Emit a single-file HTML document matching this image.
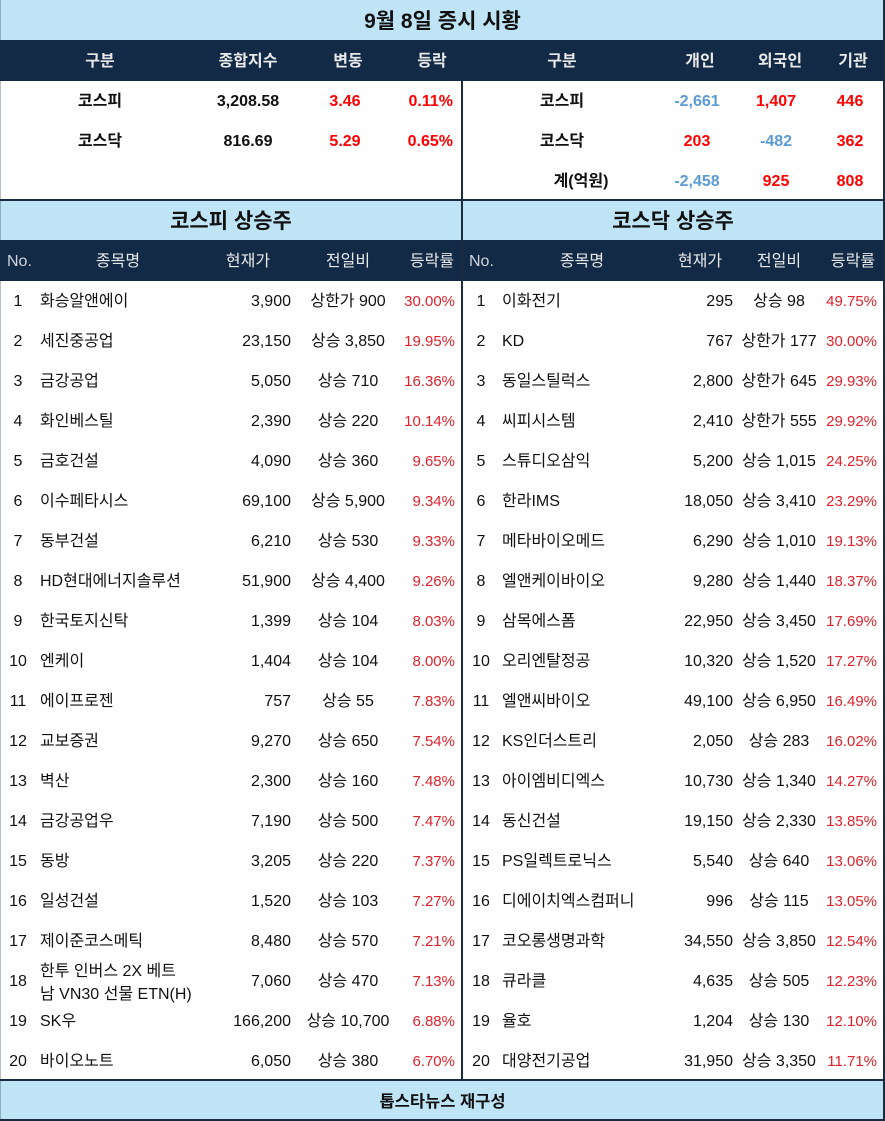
<!DOCTYPE html>
<html><head><meta charset="utf-8">
<style>
*{margin:0;padding:0;box-sizing:border-box}
html,body{width:885px;height:1121px;background:#fff;overflow:hidden}
body{position:relative;font-family:"Liberation Sans","Noto Sans CJK KR","NanumGothic",sans-serif;color:#111;font-size:16px}
.bl{position:absolute;left:0;width:885px;background:#bfe4f5}
.nv{position:absolute;left:0;width:885px;background:#122a46}
.ln{position:absolute;background:#1b2b40}
.t{position:absolute;white-space:nowrap}
.r{position:absolute;left:0;width:885px;height:40px;line-height:40px;padding-top:2px}
.c1{position:absolute;left:0;width:36px;text-align:center}
.c2{position:absolute;left:40px}
.c3{position:absolute;right:594px}
.c4{position:absolute;left:248px;width:200px;text-align:center}
.c5{position:absolute;right:430px;color:#e0222c;font-size:15px}
.d1{position:absolute;left:461px;width:40px;text-align:center}
.d2{position:absolute;left:502px}
.d3{position:absolute;right:152px}
.d4{position:absolute;left:679px;width:200px;text-align:center}
.d5{position:absolute;right:8px;color:#e0222c;font-size:15px}
.h{color:#e8e8e8}
.red{color:#f00}
.blu{color:#5b9bd5}
.b{font-weight:bold}
</style></head><body>
<!-- title -->
<div class="bl" style="top:0;height:40px"></div>
<div class="t b" style="left:0;width:885px;top:2px;height:40px;line-height:40px;text-align:center;font-size:21px;color:#111">9월 8일 증시 시황</div>
<!-- header 1 -->
<div class="nv" style="top:40px;height:41px"></div>
<div class="r h b" style="top:40px;font-size:16px">
<span class="t" style="left:50px;width:100px;text-align:center">구분</span>
<span class="t" style="left:198px;width:100px;text-align:center">종합지수</span>
<span class="t" style="left:298px;width:100px;text-align:center">변동</span>
<span class="t" style="left:382px;width:100px;text-align:center">등락</span>
<span class="t" style="left:512px;width:100px;text-align:center">구분</span>
<span class="t" style="left:650px;width:100px;text-align:center">개인</span>
<span class="t" style="left:730px;width:100px;text-align:center">외국인</span>
<span class="t" style="left:803px;width:100px;text-align:center">기관</span>
</div>
<!-- top data -->
<div class="r b" style="top:80px">
<span class="t" style="left:50px;width:100px;text-align:center">코스피</span>
<span class="t" style="left:198px;width:100px;text-align:center">3,208.58</span>
<span class="t red" style="left:295px;width:100px;text-align:center">3.46</span>
<span class="t red" style="right:432px">0.11%</span>
<span class="t" style="left:512px;width:100px;text-align:center">코스피</span>
<span class="t blu" style="left:647px;width:100px;text-align:center">-2,661</span>
<span class="t red" style="left:726px;width:100px;text-align:center">1,407</span>
<span class="t red" style="left:800px;width:100px;text-align:center">446</span>
</div>
<div class="r b" style="top:120px">
<span class="t" style="left:50px;width:100px;text-align:center">코스닥</span>
<span class="t" style="left:198px;width:100px;text-align:center">816.69</span>
<span class="t red" style="left:295px;width:100px;text-align:center">5.29</span>
<span class="t red" style="right:432px">0.65%</span>
<span class="t" style="left:512px;width:100px;text-align:center">코스닥</span>
<span class="t red" style="left:647px;width:100px;text-align:center">203</span>
<span class="t blu" style="left:726px;width:100px;text-align:center">-482</span>
<span class="t red" style="left:800px;width:100px;text-align:center">362</span>
</div>
<div class="r b" style="top:160px">
<span class="t" style="left:531px;width:100px;text-align:center">계(억원)</span>
<span class="t blu" style="left:647px;width:100px;text-align:center">-2,458</span>
<span class="t red" style="left:726px;width:100px;text-align:center">925</span>
<span class="t red" style="left:800px;width:100px;text-align:center">808</span>
</div>
<!-- section headers -->
<div class="ln" style="left:0;top:199px;width:885px;height:2px"></div>
<div class="bl" style="top:201px;height:39px"></div>
<div class="t b" style="left:131px;width:200px;top:202px;height:40px;line-height:40px;text-align:center;font-size:21px">코스피 상승주</div>
<div class="t b" style="left:573px;width:200px;top:202px;height:40px;line-height:40px;text-align:center;font-size:21px">코스닥 상승주</div>
<div class="nv" style="top:240px;height:41px"></div>
<div class="r h" style="top:240px">
<span class="t" style="left:7px;color:#d0d4da">No.</span>
<span class="t" style="left:68px;width:100px;text-align:center">종목명</span>
<span class="t" style="left:198px;width:100px;text-align:center">현재가</span>
<span class="t" style="left:298px;width:100px;text-align:center">전일비</span>
<span class="t" style="left:382px;width:100px;text-align:center">등락률</span>
<span class="t" style="left:469px;color:#d0d4da">No.</span>
<span class="t" style="left:532px;width:100px;text-align:center">종목명</span>
<span class="t" style="left:650px;width:100px;text-align:center">현재가</span>
<span class="t" style="left:729px;width:100px;text-align:center">전일비</span>
<span class="t" style="left:803px;width:100px;text-align:center">등락률</span>
</div>
<!-- rows -->
<div class="r" style="top:280px"><span class="c1">1</span><span class="c2">화승알앤에이</span><span class="c3">3,900</span><span class="c4">상한가 900</span><span class="c5">30.00%</span><span class="d1">1</span><span class="d2">이화전기</span><span class="d3">295</span><span class="d4">상승 98</span><span class="d5">49.75%</span></div>
<div class="r" style="top:320px"><span class="c1">2</span><span class="c2">세진중공업</span><span class="c3">23,150</span><span class="c4">상승 3,850</span><span class="c5">19.95%</span><span class="d1">2</span><span class="d2">KD</span><span class="d3">767</span><span class="d4">상한가 177</span><span class="d5">30.00%</span></div>
<div class="r" style="top:360px"><span class="c1">3</span><span class="c2">금강공업</span><span class="c3">5,050</span><span class="c4">상승 710</span><span class="c5">16.36%</span><span class="d1">3</span><span class="d2">동일스틸럭스</span><span class="d3">2,800</span><span class="d4">상한가 645</span><span class="d5">29.93%</span></div>
<div class="r" style="top:400px"><span class="c1">4</span><span class="c2">화인베스틸</span><span class="c3">2,390</span><span class="c4">상승 220</span><span class="c5">10.14%</span><span class="d1">4</span><span class="d2">씨피시스템</span><span class="d3">2,410</span><span class="d4">상한가 555</span><span class="d5">29.92%</span></div>
<div class="r" style="top:440px"><span class="c1">5</span><span class="c2">금호건설</span><span class="c3">4,090</span><span class="c4">상승 360</span><span class="c5">9.65%</span><span class="d1">5</span><span class="d2">스튜디오삼익</span><span class="d3">5,200</span><span class="d4">상승 1,015</span><span class="d5">24.25%</span></div>
<div class="r" style="top:480px"><span class="c1">6</span><span class="c2">이수페타시스</span><span class="c3">69,100</span><span class="c4">상승 5,900</span><span class="c5">9.34%</span><span class="d1">6</span><span class="d2">한라IMS</span><span class="d3">18,050</span><span class="d4">상승 3,410</span><span class="d5">23.29%</span></div>
<div class="r" style="top:520px"><span class="c1">7</span><span class="c2">동부건설</span><span class="c3">6,210</span><span class="c4">상승 530</span><span class="c5">9.33%</span><span class="d1">7</span><span class="d2">메타바이오메드</span><span class="d3">6,290</span><span class="d4">상승 1,010</span><span class="d5">19.13%</span></div>
<div class="r" style="top:560px"><span class="c1">8</span><span class="c2">HD현대에너지솔루션</span><span class="c3">51,900</span><span class="c4">상승 4,400</span><span class="c5">9.26%</span><span class="d1">8</span><span class="d2">엘앤케이바이오</span><span class="d3">9,280</span><span class="d4">상승 1,440</span><span class="d5">18.37%</span></div>
<div class="r" style="top:600px"><span class="c1">9</span><span class="c2">한국토지신탁</span><span class="c3">1,399</span><span class="c4">상승 104</span><span class="c5">8.03%</span><span class="d1">9</span><span class="d2">삼목에스폼</span><span class="d3">22,950</span><span class="d4">상승 3,450</span><span class="d5">17.69%</span></div>
<div class="r" style="top:640px"><span class="c1">10</span><span class="c2">엔케이</span><span class="c3">1,404</span><span class="c4">상승 104</span><span class="c5">8.00%</span><span class="d1">10</span><span class="d2">오리엔탈정공</span><span class="d3">10,320</span><span class="d4">상승 1,520</span><span class="d5">17.27%</span></div>
<div class="r" style="top:680px"><span class="c1">11</span><span class="c2">에이프로젠</span><span class="c3">757</span><span class="c4">상승 55</span><span class="c5">7.83%</span><span class="d1">11</span><span class="d2">엘앤씨바이오</span><span class="d3">49,100</span><span class="d4">상승 6,950</span><span class="d5">16.49%</span></div>
<div class="r" style="top:720px"><span class="c1">12</span><span class="c2">교보증권</span><span class="c3">9,270</span><span class="c4">상승 650</span><span class="c5">7.54%</span><span class="d1">12</span><span class="d2">KS인더스트리</span><span class="d3">2,050</span><span class="d4">상승 283</span><span class="d5">16.02%</span></div>
<div class="r" style="top:760px"><span class="c1">13</span><span class="c2">벽산</span><span class="c3">2,300</span><span class="c4">상승 160</span><span class="c5">7.48%</span><span class="d1">13</span><span class="d2">아이엠비디엑스</span><span class="d3">10,730</span><span class="d4">상승 1,340</span><span class="d5">14.27%</span></div>
<div class="r" style="top:800px"><span class="c1">14</span><span class="c2">금강공업우</span><span class="c3">7,190</span><span class="c4">상승 500</span><span class="c5">7.47%</span><span class="d1">14</span><span class="d2">동신건설</span><span class="d3">19,150</span><span class="d4">상승 2,330</span><span class="d5">13.85%</span></div>
<div class="r" style="top:840px"><span class="c1">15</span><span class="c2">동방</span><span class="c3">3,205</span><span class="c4">상승 220</span><span class="c5">7.37%</span><span class="d1">15</span><span class="d2">PS일렉트로닉스</span><span class="d3">5,540</span><span class="d4">상승 640</span><span class="d5">13.06%</span></div>
<div class="r" style="top:880px"><span class="c1">16</span><span class="c2">일성건설</span><span class="c3">1,520</span><span class="c4">상승 103</span><span class="c5">7.27%</span><span class="d1">16</span><span class="d2">디에이치엑스컴퍼니</span><span class="d3">996</span><span class="d4">상승 115</span><span class="d5">13.05%</span></div>
<div class="r" style="top:920px"><span class="c1">17</span><span class="c2">제이준코스메틱</span><span class="c3">8,480</span><span class="c4">상승 570</span><span class="c5">7.21%</span><span class="d1">17</span><span class="d2">코오롱생명과학</span><span class="d3">34,550</span><span class="d4">상승 3,850</span><span class="d5">12.54%</span></div>
<div class="r" style="top:960px"><span class="c1">18</span><div class="t" style="left:40px;top:0px;line-height:23px">한투 인버스 2X 베트<br>남 VN30 선물 ETN(H)</div><span class="c3">7,060</span><span class="c4">상승 470</span><span class="c5">7.13%</span><span class="d1">18</span><span class="d2">큐라클</span><span class="d3">4,635</span><span class="d4">상승 505</span><span class="d5">12.23%</span></div>
<div class="r" style="top:1000px"><span class="c1">19</span><span class="c2">SK우</span><span class="c3">166,200</span><span class="c4">상승 10,700</span><span class="c5">6.88%</span><span class="d1">19</span><span class="d2">율호</span><span class="d3">1,204</span><span class="d4">상승 130</span><span class="d5">12.10%</span></div>
<div class="r" style="top:1040px"><span class="c1">20</span><span class="c2">바이오노트</span><span class="c3">6,050</span><span class="c4">상승 380</span><span class="c5">6.70%</span><span class="d1">20</span><span class="d2">대양전기공업</span><span class="d3">31,950</span><span class="d4">상승 3,350</span><span class="d5">11.71%</span></div>
<!-- vertical divider -->
<div class="ln" style="left:461px;top:81px;width:2px;height:999px"></div>
<!-- footer -->
<div class="ln" style="left:0;top:1079px;width:885px;height:2px"></div>
<div class="bl" style="top:1081px;height:39px"></div>
<div class="t b" style="left:0;width:885px;top:1082px;height:40px;line-height:40px;text-align:center;font-size:16.5px">톱스타뉴스 재구성</div>
<div class="ln" style="left:0;top:1119px;width:885px;height:2px"></div>
<div class="ln" style="left:883px;top:0;width:2px;height:1121px"></div>
<div class="ln" style="left:0;top:0;width:1px;height:1121px;opacity:.3"></div>
</body></html>
